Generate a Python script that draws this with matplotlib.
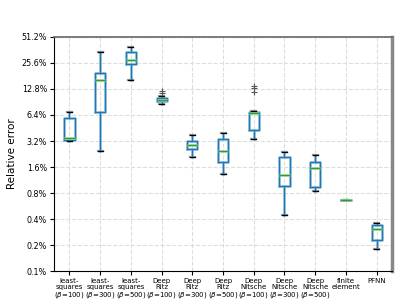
import matplotlib
matplotlib.use("Agg")
import matplotlib.pyplot as plt
from matplotlib.ticker import FixedLocator, FuncFormatter, NullLocator

# categories and box statistics (relative error in %)
labels = ["least-\nsquares\n($\\beta$=100)", "least-\nsquares\n($\\beta$=300)",
          "least-\nsquares\n($\\beta$=500)", "Deep\nRitz\n($\\beta$=100)",
          "Deep\nRitz\n($\\beta$=300)", "Deep\nRitz\n($\\beta$=500)",
          "Deep\nNitsche\n($\\beta$=100)", "Deep\nNitsche\n($\\beta$=300)",
          "Deep\nNitsche\n($\\beta$=500)", "finite\nelement", "PFNN"]
whislo = [3.17, 2.43, 16.1, 8.5, 2.09, 1.32, 3.35, 0.45, 0.84, 0.66, 0.178]
q1 = [3.31, 6.9, 25.1, 9.2, 2.59, 1.81, 4.3, 0.96, 0.93, 0.66, 0.227]
med = [3.49, 16.4, 27.5, 9.5, 2.85, 2.45, 6.7, 1.28, 1.55, 0.66, 0.304]
q3 = [5.96, 19.4, 34.0, 10.0, 3.17, 3.38, 7.0, 2.11, 1.81, 0.66, 0.344]
whishi = [6.99, 34.0, 39.6, 10.5, 3.72, 3.93, 7.2, 2.37, 2.19, 0.66, 0.357]
fliers = [[], [], [], [11.5, 12.1], [], [], [11.9, 13.1, 14.0], [], [], [], []]

yticks = [0.1, 0.2, 0.4, 0.8, 1.6, 3.2, 6.4, 12.8, 25.6, 51.2]

stats = []
for i in range(len(labels)):
    stats.append(dict(whislo=whislo[i], q1=q1[i], med=med[i], q3=q3[i],
                      whishi=whishi[i], fliers=fliers[i]))

fig = plt.figure(figsize=(4.07, 3.05), dpi=100)
ax = fig.add_axes([0.133, 0.111, 0.83, 0.768])

pos = list(range(1, len(labels) + 1))

# light layer underneath
ax.bxp(stats, positions=pos, widths=0.33, showfliers=False,
       boxprops=dict(color="#9cc4e0", linewidth=2.0),
       whiskerprops=dict(color="#9cc4e0", linewidth=2.0),
       capprops=dict(color="#999999", linewidth=1.6),
       medianprops=dict(color="#9ad69a", linewidth=1.8))
# thin dark layer on top
ax.bxp(stats, positions=pos, widths=0.33,
       boxprops=dict(color="#1f77b4", linewidth=0.9),
       whiskerprops=dict(color="#1f77b4", linewidth=0.9),
       capprops=dict(color="black", linewidth=0.9),
       medianprops=dict(color="#2ca02c", linewidth=0.9),
       flierprops=dict(marker="+", markeredgecolor="#555555", markersize=4,
                       markeredgewidth=0.8))

ax.set_yscale("log", base=2)
ax.set_ylim(0.1, 51.2)
ax.yaxis.set_major_locator(FixedLocator(yticks))
ax.yaxis.set_minor_locator(NullLocator())
ax.yaxis.set_major_formatter(FuncFormatter(lambda v, p: f"{v:.1f}%"))
ax.set_xlim(0.5, len(labels) + 0.5)
ax.set_xticks(pos)
ax.set_xticklabels(labels, fontsize=5.0, linespacing=1.0)
ax.tick_params(axis="y", labelsize=5.8, length=3, pad=2)
ax.tick_params(axis="x", length=3, pad=2)
ax.set_ylabel("Relative error", fontsize=7.5)
ax.yaxis.set_label_coords(-0.11, 0.5)

ax.grid(True, linestyle="--", color="#dddddd", linewidth=0.8)
ax.set_axisbelow(True)
ax.spines["right"].set_color("#888888")
ax.spines["right"].set_linewidth(2.5)
ax.spines["top"].set_color("#666666")
ax.spines["top"].set_linewidth(1.2)

fig.savefig("out.png", dpi=100)
